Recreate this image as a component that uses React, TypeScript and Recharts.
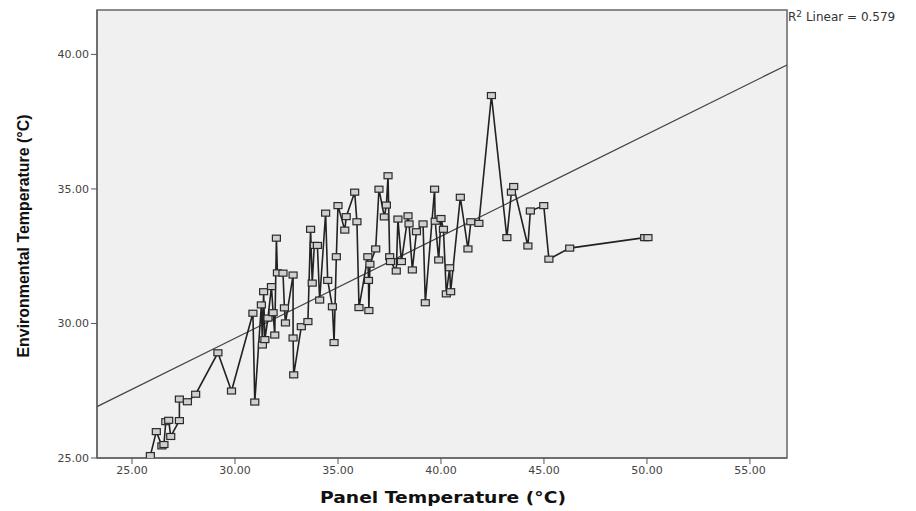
import {
  ScatterChart,
  Scatter,
  XAxis,
  YAxis,
  ReferenceArea,
  ReferenceLine,
  Label,
} from "recharts";

// panel temperature (x) and environmental temperature (y), in recorded order
const panelTemp = [
  25.89, 26.18, 26.45, 26.55, 26.64, 26.78, 26.88, 27.3, 27.3, 27.69, 28.09, 29.17,
  29.83, 30.87, 30.96, 31.28, 31.33, 31.39, 31.45, 31.6, 31.77, 31.85, 31.93, 32.01,
  32.06, 32.33, 32.4, 32.45, 32.82, 32.82, 32.85, 33.22, 33.54, 33.67, 33.75, 33.85,
  34.0, 34.11, 34.4, 34.5, 34.73, 34.81, 34.92, 35.0, 35.33, 35.4, 35.81, 35.92,
  36.02, 36.45, 36.48, 36.5, 36.55, 36.83, 36.99, 37.25, 37.35, 37.43, 37.51, 37.55,
  37.83, 37.91, 38.08, 38.4, 38.45, 38.61, 38.81, 39.13, 39.24, 39.69, 39.72, 39.89,
  40.0, 40.12, 40.26, 40.42, 40.47, 40.94, 41.31, 41.45, 41.84, 42.45, 43.2, 43.42,
  43.53, 44.22, 44.34, 44.99, 45.24, 46.25, 49.89, 50.05,
];
const envTemp = [
  25.09, 25.98, 25.45, 25.5, 26.35, 26.4, 25.8, 26.39, 27.19, 27.09, 27.37, 28.91,
  27.49, 30.38, 27.08, 30.69, 29.2, 31.18, 29.4, 30.2, 31.37, 30.4, 29.57, 33.17,
  31.88, 31.87, 30.58, 30.02, 31.8, 29.46, 28.09, 29.88, 30.07, 33.5, 31.5, 32.9,
  32.9, 30.87, 34.1, 31.6, 30.62, 29.29, 32.48, 34.38, 33.47, 33.97, 34.88, 33.78,
  30.59, 32.48, 31.6, 30.48, 32.2, 32.77, 34.99, 33.96, 34.4, 35.49, 32.48, 32.3,
  31.95, 33.88, 32.3, 34.0, 33.7, 31.99, 33.41, 33.7, 30.77, 34.99, 33.8, 32.36,
  33.9, 33.5, 31.1, 32.07, 31.18, 34.69, 32.77, 33.78, 33.72, 38.47, 33.19, 34.88,
  35.09, 32.88, 34.18, 34.38, 32.39, 32.8, 33.19, 33.19,
];

const xTicks = [25, 30, 35, 40, 45, 50, 55];
const yTicks = [25, 30, 35, 40];
const xDomain = [23.3, 56.8];
const yDomain = [25, 41.65];
// linear fit: intercept, slope
const fit = [18.08, 0.379];
const rSquared = 0.579;

const points = panelTemp.map((x, i) => ({ x, y: envTemp[i] }));

const fitAt = (x: number) => fit[0] + fit[1] * x;

function SquareMarker(props: any) {
  const { cx, cy } = props;
  return (
    <rect x={cx - 4} y={cy - 3} width={8} height={6} fill="#cfcfcf" stroke="#2a2a2a" strokeWidth={1.2} />
  );
}

const tickStyle = { fontSize: 11, fill: "#444", fontFamily: "DejaVu Sans, Verdana, sans-serif" };

export default function App() {
  return (
    <div style={{ position: "absolute", left: 0, top: 0, width: 916, height: 511, background: "#fff" }}>
      <ScatterChart width={916} height={511} margin={{ top: 10, right: 129, bottom: 0, left: 0 }}>
        <ReferenceArea
          x1={xDomain[0]}
          x2={xDomain[1]}
          y1={yDomain[0]}
          y2={yDomain[1]}
          fill="#f0f0f0"
          fillOpacity={1}
          stroke="#666"
          strokeWidth={1.5}
        />
        <XAxis
          type="number"
          dataKey="x"
          domain={xDomain}
          ticks={xTicks}
          allowDataOverflow
          tickFormatter={(v: number) => v.toFixed(2)}
          tick={tickStyle}
          tickSize={6}
          stroke="#555"
          height={53}
        >
          <Label
            content={() => (
              <text
                x={443}
                y={503}
                textAnchor="middle"
                textLength={246}
                lengthAdjust="spacingAndGlyphs"
                style={{ fontSize: 16, fontWeight: "bold", fill: "#111", fontFamily: "DejaVu Sans, Verdana, sans-serif" }}
              >
                Panel Temperature (°C)
              </text>
            )}
          />
        </XAxis>
        <YAxis
          type="number"
          dataKey="y"
          domain={yDomain}
          ticks={yTicks}
          allowDataOverflow
          tickFormatter={(v: number) => v.toFixed(2)}
          tick={tickStyle}
          tickSize={6}
          stroke="#555"
          width={97}
        >
          <Label
            content={() => (
              <text
                x={0}
                y={0}
                transform="translate(29 236) rotate(-90)"
                textAnchor="middle"
                textLength={243}
                lengthAdjust="spacingAndGlyphs"
                style={{ fontSize: 17, fontWeight: "bold", fill: "#111", fontFamily: "Liberation Sans, Arial, sans-serif" }}
              >
                Environmental Temperature (°C)
              </text>
            )}
          />
        </YAxis>
        <ReferenceLine
          segment={[
            { x: xDomain[0], y: fitAt(xDomain[0]) },
            { x: xDomain[1], y: fitAt(xDomain[1]) },
          ]}
          stroke="#444"
          strokeWidth={1.3}
        />
        <Scatter
          data={points}
          line={{ stroke: "#222", strokeWidth: 1.6 }}
          shape={SquareMarker}
          isAnimationActive={false}
        />
      </ScatterChart>
      <div
        style={{
          position: "absolute",
          left: 788,
          top: 10,
          fontSize: 12,
          lineHeight: "14px",
          color: "#333",
          fontFamily: "DejaVu Sans, Verdana, sans-serif",
          whiteSpace: "nowrap",
        }}
      >
        R<sup style={{ fontSize: 9, verticalAlign: "4px", lineHeight: 0 }}>2</sup> Linear = {rSquared}
      </div>
    </div>
  );
}
